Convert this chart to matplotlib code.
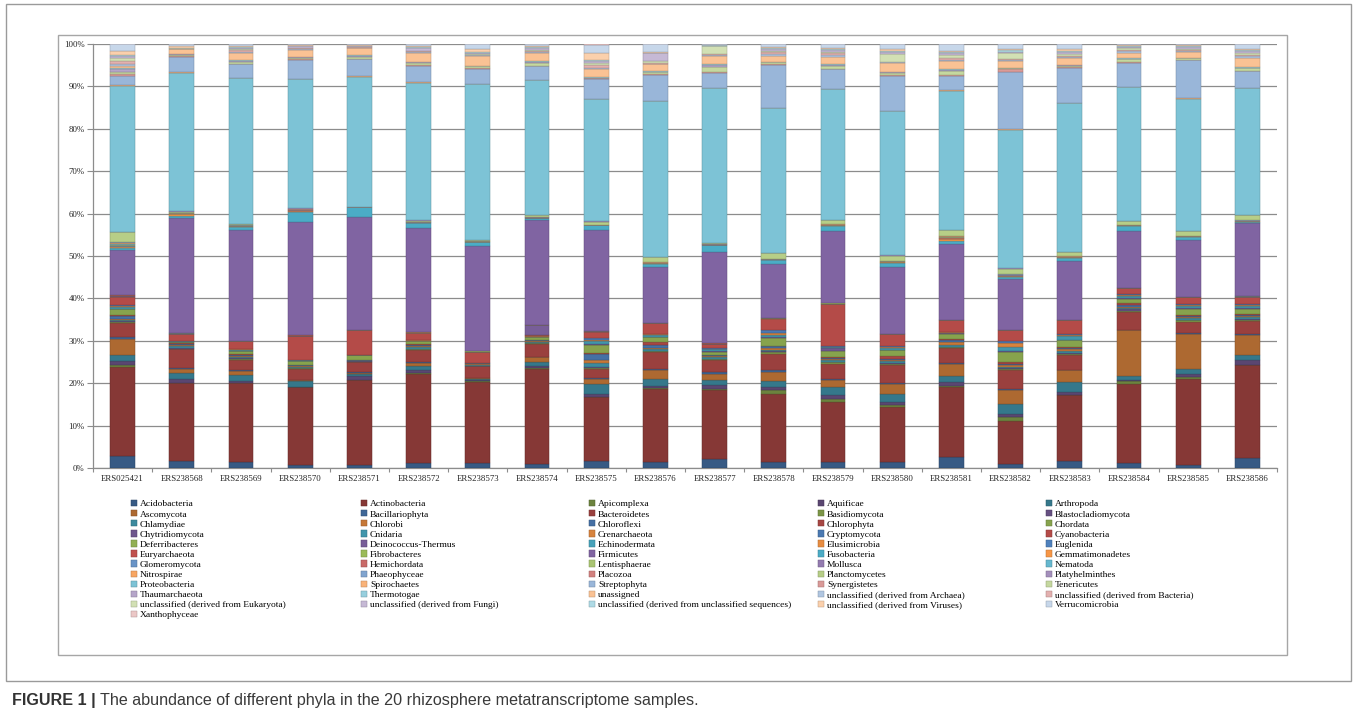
import matplotlib

matplotlib.use("Agg")
import matplotlib.pyplot as plt
from matplotlib.colors import to_rgb
from matplotlib.patches import Rectangle
import numpy as np

# sample names along the x axis
SAMPLES = [
    "ERS025421", "ERS238568", "ERS238569", "ERS238570", "ERS238571",
    "ERS238572", "ERS238573", "ERS238574", "ERS238575", "ERS238576",
    "ERS238577", "ERS238578", "ERS238579", "ERS238580", "ERS238581",
    "ERS238582", "ERS238583", "ERS238584", "ERS238585", "ERS238586",
]

# abundance per phylum (%), one value per sample
ACIDOBACTERIA = [2.9, 1.7, 1.3, 0.8, 0.8, 1.1, 1.1, 0.9, 1.7, 1.3, 2.1, 1.3, 1.3, 1.3, 2.7, 0.9, 1.6, 1.1, 0.6, 2.4]
ACTINOBACTERIA = [20.9, 18.2, 18.7, 18.3, 19.9, 21.1, 19.3, 22.5, 15.0, 17.4, 16.4, 16.2, 14.2, 13.1, 16.4, 10.3, 15.5, 18.8, 20.5, 21.8]
APICOMPLEXA = [0.4, 0.1, 0.1, 0.05, 0.05, 0.3, 0.1, 0.1, 0.1, 0.1, 0.2, 0.8, 0.8, 0.4, 0.2, 0.9, 0.2, 0.6, 0.3, 0.2]
AQUIFICAE = [1.0, 0.8, 0.4, 0.05, 0.85, 0.5, 0.3, 0.5, 0.7, 0.5, 0.8, 0.8, 0.8, 0.7, 1.0, 0.7, 0.7, 0.3, 0.7, 1.0]
ARTHROPODA = [1.4, 1.4, 1.3, 1.3, 0.5, 1.0, 0.3, 1.0, 2.2, 1.8, 1.2, 1.4, 2.0, 2.0, 1.5, 2.3, 2.3, 1.0, 1.3, 1.2]
ASCOMYCOTA = [3.9, 1.1, 1.0, 0.2, 0.4, 0.8, 0.1, 1.2, 1.3, 1.9, 1.5, 2.1, 1.6, 2.4, 2.8, 3.3, 2.7, 10.7, 8.3, 4.7]
BACILLARIOPHYTA = [0.3, 0.1, 0.2, 0.1, 0.1, 0.3, 0.02, 0.1, 0.3, 0.4, 0.4, 0.4, 0.4, 0.05, 0.2, 0.3, 0.05, 0.05, 0.2, 0.2]
BACTEROIDETES = [3.3, 4.4, 2.4, 2.6, 2.4, 2.7, 2.8, 3.0, 2.1, 4.0, 2.8, 4.0, 3.5, 4.3, 3.4, 4.3, 3.6, 4.25, 2.6, 3.2]
BASIDIOMYCOTA = [0.3, 0.2, 0.3, 0.1, 0.1, 0.2, 0.1, 0.2, 0.3, 0.2, 0.3, 0.3, 0.3, 0.3, 0.3, 0.3, 0.3, 0.3, 0.3, 0.3]
BLASTOCLADIOMYCOTA = [0.2, 0.1, 0.1, 0.1, 0.05, 0.1, 0.05, 0.1, 0.2, 0.1, 0.1, 0.2, 0.2, 0.2, 0.1, 0.2, 0.2, 0.3, 0.2, 0.2]
CHLAMYDIAE = [0.3, 0.4, 0.4, 0.3, 0.1, 0.4, 0.1, 0.2, 0.8, 0.3, 0.4, 0.4, 0.4, 0.4, 0.5, 0.4, 0.5, 0.4, 0.4, 0.4]
CHLOROBI = [0.2, 0.4, 0.2, 0.1, 0.05, 0.3, 0.4, 0.1, 0.7, 0.4, 0.2, 0.3, 0.3, 0.3, 0.6, 0.3, 0.4, 0.2, 0.2, 0.2]
CHLOROFLEXI = [0.8, 0.2, 0.3, 0.2, 0.1, 0.3, 0.02, 0.2, 1.4, 0.5, 0.2, 0.5, 0.2, 0.3, 0.4, 0.3, 0.3, 0.5, 0.2, 0.3]
CHLOROPHYTA = [0.3, 0.1, 0.2, 0.05, 0.05, 0.2, 0.02, 0.1, 0.4, 0.7, 0.1, 0.05, 0.2, 0.6, 0.4, 0.5, 0.2, 0.3, 0.2, 0.2]
CHORDATA = [1.2, 0.3, 0.6, 0.9, 1.1, 0.6, 0.02, 0.6, 1.9, 1.2, 0.8, 2.0, 1.3, 1.4, 1.2, 2.4, 1.6, 1.1, 1.6, 1.3]
CHYTRIDIOMYCOTA = [0.2, 0.1, 0.1, 0.05, 0.02, 0.05, 0.02, 0.1, 0.1, 0.1, 0.1, 0.1, 0.9, 0.1, 0.1, 0.3, 0.1, 0.1, 0.1, 0.1]
CNIDARIA = [0.4, 0.1, 0.2, 0.15, 0.02, 0.1, 0.02, 0.1, 0.7, 0.4, 0.4, 0.6, 0.1, 0.5, 0.1, 0.8, 0.9, 0.6, 0.6, 0.6]
CRENARCHAEOTA = [0.2, 0.1, 0.1, 0.05, 0.02, 0.05, 0.02, 0.05, 0.4, 0.2, 0.2, 0.5, 0.1, 0.2, 0.1, 1.0, 0.3, 0.2, 0.2, 0.2]
CRYPTOMYCOTA = [0.3, 0.1, 0.1, 0.05, 0.02, 0.05, 0.02, 0.05, 0.4, 0.2, 0.2, 0.5, 0.1, 0.15, 0.1, 0.5, 0.2, 0.2, 0.2, 0.2]
CYANOBACTERIA = [1.8, 1.6, 1.9, 5.7, 5.9, 1.75, 2.6, 0.3, 1.4, 2.4, 0.9, 2.8, 10.0, 2.8, 2.8, 2.5, 3.2, 1.4, 1.6, 1.7]
DEFERRIBACTERES = [0.05, 0.02, 0.02, 0.02, 0.02, 0.02, 0.02, 0.02, 0.05, 0.02, 0.02, 0.02, 0.02, 0.02, 0.02, 0.02, 0.02, 0.02, 0.02, 0.02]
DEINOCOCCUS_THERMUS = [0.1, 0.02, 0.02, 0.02, 0.02, 0.02, 0.02, 2.3, 0.15, 0.02, 0.02, 0.02, 0.02, 0.02, 0.02, 0.02, 0.02, 0.02, 0.02, 0.02]
ECHINODERMATA = [0.05, 0.01, 0.01, 0.01, 0.01, 0.01, 0.01, 0.01, 0.01, 0.01, 0.01, 0.01, 0.01, 0.01, 0.01, 0.01, 0.01, 0.01, 0.01, 0.01]
ELUSIMICROBIA = [0.05, 0.01, 0.01, 0.01, 0.01, 0.01, 0.01, 0.01, 0.01, 0.01, 0.01, 0.01, 0.01, 0.01, 0.01, 0.01, 0.01, 0.01, 0.01, 0.01]
EUGLENIDA = [0.05, 0.01, 0.01, 0.01, 0.01, 0.01, 0.01, 0.01, 0.01, 0.01, 0.01, 0.01, 0.01, 0.01, 0.01, 0.01, 0.01, 0.01, 0.01, 0.01]
EURYARCHAEOTA = [0.15, 0.02, 0.02, 0.02, 0.02, 0.02, 0.02, 0.02, 0.02, 0.02, 0.02, 0.02, 0.02, 0.02, 0.02, 0.02, 0.02, 0.02, 0.02, 0.02]
FIBROBACTERES = [0.05, 0.01, 0.01, 0.01, 0.01, 0.01, 0.01, 0.01, 0.01, 0.01, 0.01, 0.01, 0.01, 0.01, 0.01, 0.01, 0.01, 0.01, 0.01, 0.01]
FIRMICUTES = [10.7, 27.0, 26.0, 26.8, 26.7, 24.5, 24.8, 24.7, 23.7, 13.2, 21.6, 12.8, 17.2, 15.9, 17.8, 11.9, 13.9, 13.5, 13.5, 17.2]
FUSOBACTERIA = [0.5, 0.5, 0.8, 2.4, 2.2, 1.3, 1.0, 0.4, 1.2, 0.8, 1.6, 0.9, 1.0, 0.9, 0.8, 0.5, 0.6, 1.0, 0.7, 0.4]
GEMMATIMONADETES = [0.2, 0.5, 0.1, 0.2, 0.02, 0.1, 0.1, 0.1, 0.05, 0.1, 0.1, 0.1, 0.2, 0.2, 0.4, 0.2, 0.2, 0.2, 0.1, 0.1]
GLOMEROMYCOTA = [0.1, 0.03, 0.02, 0.04, 0.01, 0.03, 0.03, 0.03, 0.01, 0.03, 0.02, 0.03, 0.04, 0.04, 0.1, 0.06, 0.04, 0.03, 0.02, 0.03]
HEMICHORDATA = [0.1, 0.03, 0.02, 0.04, 0.01, 0.02, 0.03, 0.03, 0.01, 0.03, 0.01, 0.03, 0.04, 0.04, 0.1, 0.06, 0.04, 0.02, 0.01, 0.03]
LENTISPHAERAE = [0.2, 0.05, 0.1, 0.05, 0.01, 0.03, 0.04, 0.04, 0.01, 0.04, 0.02, 0.04, 0.05, 0.05, 0.2, 0.08, 0.05, 0.03, 0.02, 0.03]
MOLLUSCA = [0.1, 0.03, 0.02, 0.03, 0.01, 0.01, 0.02, 0.02, 0.01, 0.02, 0.01, 0.02, 0.03, 0.03, 0.05, 0.06, 0.03, 0.02, 0.01, 0.02]
NEMATODA = [0.2, 0.03, 0.05, 0.05, 0.01, 0.02, 0.03, 0.03, 0.01, 0.03, 0.02, 0.03, 0.05, 0.05, 0.1, 0.08, 0.05, 0.04, 0.02, 0.03]
NITROSPIRAE = [0.2, 0.03, 0.05, 0.05, 0.01, 0.02, 0.03, 0.03, 0.01, 0.03, 0.01, 0.03, 0.05, 0.05, 0.1, 0.08, 0.05, 0.03, 0.01, 0.03]
PHAEOPHYCEAE = [0.1, 0.02, 0.01, 0.02, 0.01, 0.01, 0.01, 0.01, 0.01, 0.01, 0.005, 0.01, 0.02, 0.02, 0.05, 0.04, 0.02, 0.02, 0.005, 0.02]
PLACOZOA = [0.1, 0.02, 0.01, 0.02, 0.01, 0.01, 0.01, 0.01, 0.01, 0.01, 0.005, 0.01, 0.02, 0.02, 0.05, 0.04, 0.02, 0.01, 0.005, 0.01]
PLANCTOMYCETES = [2.3, 0.3, 0.3, 0.2, 0.02, 0.3, 0.2, 0.4, 0.7, 1.2, 0.2, 1.4, 0.9, 1.2, 1.4, 1.3, 1.0, 0.9, 1.0, 1.2]
PLATYHELMINTHES = [0.1, 0.05, 0.02, 0.1, 0.02, 0.05, 0.05, 0.05, 0.05, 0.05, 0.02, 0.05, 0.05, 0.05, 0.05, 0.1, 0.05, 0.05, 0.02, 0.05]
PROTEOBACTERIA = [34.5, 32.5, 34.3, 30.5, 30.7, 32.5, 36.7, 31.8, 28.8, 36.7, 36.7, 34.1, 31.0, 34.0, 32.8, 32.7, 35.1, 31.5, 31.3, 30.0]
SPIROCHAETES = [0.1, 0.1, 0.05, 0.05, 0.02, 0.05, 0.05, 0.05, 0.05, 0.05, 0.05, 0.05, 0.05, 0.05, 0.1, 0.1, 0.1, 0.1, 0.05, 0.05]
STREPTOPHYTA = [2.2, 3.6, 3.2, 4.4, 4.0, 3.9, 3.7, 3.3, 4.8, 6.3, 3.5, 10.2, 4.6, 8.2, 3.3, 13.6, 8.1, 5.6, 9.0, 3.9]
SYNERGISTETES = [0.4, 0.2, 0.1, 0.1, 0.2, 0.1, 0.1, 0.1, 0.1, 0.2, 0.3, 0.1, 0.1, 0.2, 0.3, 0.6, 0.2, 0.2, 0.1, 0.1]
TENERICUTES = [0.6, 0.3, 0.5, 0.4, 0.5, 0.6, 0.4, 0.7, 0.1, 0.4, 1.2, 0.4, 0.6, 0.6, 0.9, 0.2, 0.4, 0.6, 0.4, 0.6]
THAUMARCHAEOTA = [0.5, 0.1, 0.2, 0.1, 0.2, 0.1, 0.1, 0.2, 0.05, 0.1, 0.3, 0.1, 0.2, 0.2, 0.3, 0.05, 0.1, 0.2, 0.05, 0.1]
THERMOTOGAE = [0.3, 0.1, 0.1, 0.1, 0.2, 0.1, 0.1, 0.2, 0.05, 0.1, 0.3, 0.1, 0.2, 0.1, 0.3, 0.05, 0.05, 0.1, 0.05, 0.1]
UNASSIGNED = [0.5, 1.1, 1.8, 1.7, 1.6, 2.1, 2.2, 1.9, 1.9, 1.6, 2.0, 1.3, 1.8, 2.1, 1.8, 1.6, 1.6, 1.3, 1.3, 2.3]
UNCL_ARCHAEA = [0.5, 0.05, 0.2, 0.2, 0.1, 0.2, 0.2, 0.2, 0.4, 0.2, 0.1, 0.4, 0.3, 0.1, 0.3, 0.2, 0.3, 0.3, 0.2, 0.3]
UNCL_BACTERIA = [0.7, 0.1, 0.4, 0.2, 0.1, 0.2, 0.2, 0.3, 0.6, 0.2, 0.3, 0.5, 0.5, 0.1, 0.4, 0.2, 0.3, 0.4, 0.3, 0.4]
UNCL_EUKARYOTA = [0.6, 0.05, 0.2, 0.1, 0.1, 0.2, 0.2, 0.3, 0.6, 0.4, 1.8, 0.3, 0.3, 1.9, 0.8, 1.5, 0.4, 0.3, 0.2, 0.3]
UNCL_FUNGI = [0.6, 0.05, 0.3, 0.3, 0.1, 0.7, 0.2, 0.4, 0.4, 1.8, 0.1, 0.4, 0.4, 0.4, 0.3, 0.3, 0.5, 0.3, 0.6, 0.5]
UNCL_UNCLASSIFIED = [0.3, 0.05, 0.2, 0.1, 0.1, 0.2, 0.2, 0.2, 0.3, 0.1, 0.1, 0.3, 0.3, 0.3, 0.3, 0.3, 0.3, 0.2, 0.2, 0.3]
UNCL_VIRUSES = [0.9, 0.4, 0.3, 0.1, 0.1, 0.2, 0.8, 0.3, 1.5, 0.2, 0.1, 0.2, 0.3, 0.4, 0.3, 0.3, 0.3, 0.2, 0.2, 0.3]
VERRUCOMICROBIA = [1.5, 0.5, 0.4, 0.3, 0.3, 0.4, 1.0, 0.4, 2.0, 1.8, 0.2, 0.7, 0.8, 1.1, 1.5, 1.1, 1.2, 0.3, 0.2, 1.0]
XANTHOPHYCEAE = [0.1, 0.05, 0.05, 0.05, 0.05, 0.05, 0.1, 0.05, 0.2, 0.1, 0.02, 0.05, 0.1, 0.1, 0.1, 0.1, 0.05, 0.05, 0.05, 0.1]

PHYLA = [
    ("Acidobacteria", ACIDOBACTERIA),
    ("Actinobacteria", ACTINOBACTERIA),
    ("Apicomplexa", APICOMPLEXA),
    ("Aquificae", AQUIFICAE),
    ("Arthropoda", ARTHROPODA),
    ("Ascomycota", ASCOMYCOTA),
    ("Bacillariophyta", BACILLARIOPHYTA),
    ("Bacteroidetes", BACTEROIDETES),
    ("Basidiomycota", BASIDIOMYCOTA),
    ("Blastocladiomycota", BLASTOCLADIOMYCOTA),
    ("Chlamydiae", CHLAMYDIAE),
    ("Chlorobi", CHLOROBI),
    ("Chloroflexi", CHLOROFLEXI),
    ("Chlorophyta", CHLOROPHYTA),
    ("Chordata", CHORDATA),
    ("Chytridiomycota", CHYTRIDIOMYCOTA),
    ("Cnidaria", CNIDARIA),
    ("Crenarchaeota", CRENARCHAEOTA),
    ("Cryptomycota", CRYPTOMYCOTA),
    ("Cyanobacteria", CYANOBACTERIA),
    ("Deferribacteres", DEFERRIBACTERES),
    ("Deinococcus-Thermus", DEINOCOCCUS_THERMUS),
    ("Echinodermata", ECHINODERMATA),
    ("Elusimicrobia", ELUSIMICROBIA),
    ("Euglenida", EUGLENIDA),
    ("Euryarchaeota", EURYARCHAEOTA),
    ("Fibrobacteres", FIBROBACTERES),
    ("Firmicutes", FIRMICUTES),
    ("Fusobacteria", FUSOBACTERIA),
    ("Gemmatimonadetes", GEMMATIMONADETES),
    ("Glomeromycota", GLOMEROMYCOTA),
    ("Hemichordata", HEMICHORDATA),
    ("Lentisphaerae", LENTISPHAERAE),
    ("Mollusca", MOLLUSCA),
    ("Nematoda", NEMATODA),
    ("Nitrospirae", NITROSPIRAE),
    ("Phaeophyceae", PHAEOPHYCEAE),
    ("Placozoa", PLACOZOA),
    ("Planctomycetes", PLANCTOMYCETES),
    ("Platyhelminthes", PLATYHELMINTHES),
    ("Proteobacteria", PROTEOBACTERIA),
    ("Spirochaetes", SPIROCHAETES),
    ("Streptophyta", STREPTOPHYTA),
    ("Synergistetes", SYNERGISTETES),
    ("Tenericutes", TENERICUTES),
    ("Thaumarchaeota", THAUMARCHAEOTA),
    ("Thermotogae", THERMOTOGAE),
    ("unassigned", UNASSIGNED),
    ("unclassified (derived from Archaea)", UNCL_ARCHAEA),
    ("unclassified (derived from Bacteria)", UNCL_BACTERIA),
    ("unclassified (derived from Eukaryota)", UNCL_EUKARYOTA),
    ("unclassified (derived from Fungi)", UNCL_FUNGI),
    ("unclassified (derived from unclassified sequences)", UNCL_UNCLASSIFIED),
    ("unclassified (derived from Viruses)", UNCL_VIRUSES),
    ("Verrucomicrobia", VERRUCOMICROBIA),
    ("Xanthophyceae", XANTHOPHYCEAE),
]

# office-style accent cycle, darkened for early series and tinted for late ones
ACCENTS = ["#4F81BD", "#C0504D", "#9BBB59", "#8064A2", "#4BACC6", "#F79646"]
SHADES = [-0.3, -0.2, -0.13, -0.06, 0.0, 0.15, 0.28, 0.42, 0.55, 0.68]

W, H = 1357, 726
SERIF = "Liberation Serif"


def series_color(i):
    base = np.array(to_rgb(ACCENTS[i % 6]))
    f = SHADES[i // 6]
    if f < 0:
        return tuple(base * (1 + f))
    return tuple(base + (1 - base) * f)


def px_rect(x0, y0, x1, y1):
    return [x0 / W, 1 - y1 / H, (x1 - x0) / W, (y1 - y0) / H]


def main():
    fig = plt.figure(figsize=(W / 100, H / 100), dpi=100)

    # frames around the chart
    fig.patches.append(Rectangle((6 / W, 1 - 681 / H), 1345 / W, 677 / H, transform=fig.transFigure,
                                 fill=False, edgecolor="#9a9a9a", linewidth=1.0))
    fig.patches.append(Rectangle((58 / W, 1 - 655 / H), 1229 / W, 620 / H, transform=fig.transFigure,
                                 fill=False, edgecolor="#a6a6a6", linewidth=1.0))

    ax = fig.add_axes(px_rect(93, 44, 1277, 468))

    values = np.array([v for _, v in PHYLA], dtype=float)
    pct = values / values.sum(axis=0) * 100.0
    x = np.arange(len(SAMPLES))
    bottom = np.zeros(len(SAMPLES))
    handles = []
    for i, (name, _) in enumerate(PHYLA):
        c = series_color(i)
        edge = tuple(np.array(c) * 0.75)
        bars = ax.bar(x, pct[i], bottom=bottom, width=0.42, color=c, edgecolor=edge,
                      linewidth=0.35, label=name, zorder=3)
        handles.append(bars)
        bottom += pct[i]

    ax.set_xlim(-0.5, len(SAMPLES) - 0.5)
    ax.set_ylim(0, 100)
    ax.set_yticks(np.arange(0, 101, 10))
    ax.set_yticklabels([f"{v}%" for v in range(0, 101, 10)], fontfamily=SERIF, fontsize=6.3, color="#222222")
    ax.set_xticks(x)
    ax.set_xticklabels(SAMPLES, fontfamily=SERIF, fontsize=6.3, color="#222222")
    ax.set_xticks(np.arange(-0.5, len(SAMPLES), 1.0), minor=True)
    ax.tick_params(axis="x", which="major", length=0, pad=5)
    ax.tick_params(axis="x", which="minor", length=3, color="#8c8c8c", width=0.8)
    ax.tick_params(axis="y", length=4, color="#8c8c8c", width=0.8, pad=2)
    ax.yaxis.grid(True, color="#8c8c8c", linewidth=0.9, zorder=0)
    ax.set_axisbelow(True)
    for side in ("top", "right"):
        ax.spines[side].set_visible(False)
    for side in ("left", "bottom"):
        ax.spines[side].set_color("#8c8c8c")
        ax.spines[side].set_linewidth(0.9)

    # legend: five columns, filled row by row like the original
    col_x = [131, 361, 589, 818, 1046]
    n = len(PHYLA)
    for c, cx in enumerate(col_x):
        idx = list(range(c, n, 5))
        fig.legend([handles[k] for k in idx], [PHYLA[k][0] for k in idx],
                   loc="upper left", bbox_to_anchor=(cx / W, 1 - 500 / H),
                   frameon=False, prop={"family": SERIF, "size": 6.8},
                   handlelength=0.65, handleheight=0.65, handletextpad=0.3,
                   labelspacing=0.17, borderpad=0, borderaxespad=0)

    # caption
    renderer = fig.canvas.get_renderer()
    t1 = fig.text(12 / W, 1 - 700 / H, "FIGURE 1 |", fontfamily="Liberation Sans", fontweight="bold",
                  fontsize=11.6, color="#333333", va="center", ha="left")
    bb = t1.get_window_extent(renderer=renderer)
    fig.text((bb.x1 + 4) / W, 1 - 700 / H,
             "The abundance of different phyla in the 20 rhizosphere metatranscriptome samples.",
             fontfamily="Liberation Sans", fontsize=11.6, color="#3a3a3a", va="center", ha="left")

    fig.savefig("out.png", dpi=100)


if __name__ == "__main__":
    main()
